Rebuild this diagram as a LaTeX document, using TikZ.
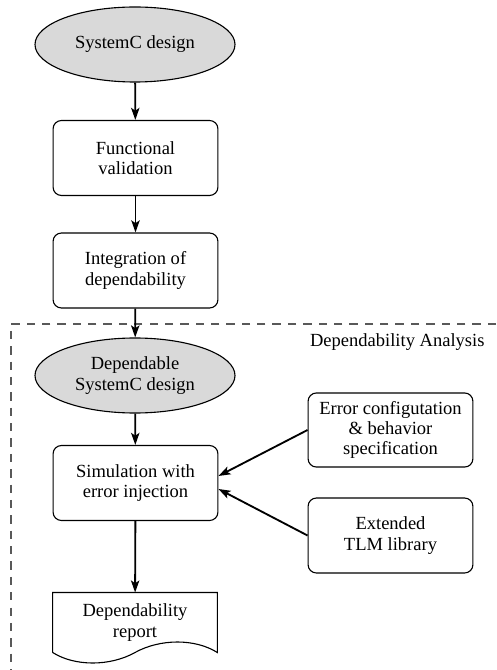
\documentclass[tikz,border=0pt]{standalone}
\usepackage{fontspec}
\setmainfont{Liberation Serif}
\usetikzlibrary{shapes.geometric,arrows.meta,calc}

\begin{document}
\begin{tikzpicture}[x=0.54pt,y=-0.54pt,
  font=\fontsize{10}{11}\selectfont,
  design/.style={ellipse, draw, fill=black!15, line width=0.6pt,
    minimum width=108pt, minimum height=40.5pt, inner sep=0pt, align=center},
  stepbox/.style={rectangle, rounded corners=4.5pt, draw, line width=0.6pt,
    minimum width=89pt, minimum height=40.5pt, inner sep=2pt, align=center},
  docbox/.style={rectangle, minimum width=88.5pt, minimum height=32pt,
    inner sep=0pt, align=center},
  flow/.style={-{Stealth[length=6.5pt,width=4.5pt,inset=1.5pt]}, line width=1pt},
  region/.style={line width=0.6pt, draw=black!65, dash pattern=on 4.5pt off 3.8pt}]

  \useasboundingbox (0,0) rectangle (496,670);

  % main design flow
  \node[design]  (sysc)  at (135,44.5)  {SystemC design};
  \node[stepbox] (func)  at (135.5,158) {Functional\\validation};
  \node[stepbox] (integ) at (135.5,270.5) {Integration of\\dependability};

  % dependability analysis region
  \coordinate (regNE) at (496,324);
  \coordinate (regNW) at (11,324);
  \coordinate (regSW) at (11,670);
  \draw[region] (regNE) -- (regNW) -- (regSW);
  \node[anchor=east] (reglabel) at (491,342) {Dependability Analysis};

  \node[design]  (dep)   at (135,375.5) {Dependable\\SystemC design};
  \node[stepbox] (sim)   at (135.5,483) {Simulation with\\error injection};
  \node[stepbox, minimum height=40pt] (errcfg) at (390.5,430)
    {Error configutation\\\& behavior\\specification};
  \node[stepbox] (tlm)   at (390.5,535.5) {Extended\\TLM library};

  % document-shaped report
  \node[docbox] (rep) at (135,622.5) {Dependability\\report};
  \draw[line width=0.6pt] (rep.south west) -- (rep.north west) -- (rep.north east)
    -- (rep.south east)
    .. controls ($(rep.south east)+(-22,-14)$) and ($(rep.south east)+(-57,-14)$)
    .. ($(rep.south)+(0,0)$)
    .. controls ($(rep.south)+(-25,14)$) and ($(rep.south west)+(22,14)$)
    .. (rep.south west);

  % connectors
  \draw[flow] (sysc) -- (func);
  \draw[flow] (func) -- (integ);
  \draw[flow] (integ) -- (dep);
  \draw[flow] (dep) -- (sim);
  \draw[flow] (sim) -- (rep);
  \draw[flow] (errcfg.west) -- ($(sim.east)+(0,-7)$);
  \draw[flow] (tlm.west) -- ($(sim.east)+(0,6)$);
\end{tikzpicture}
\end{document}
